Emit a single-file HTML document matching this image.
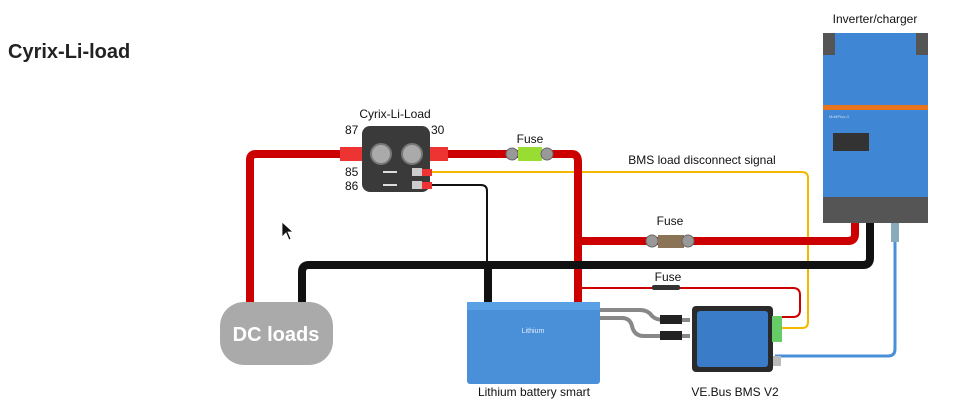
<!DOCTYPE html>
<html><head><meta charset="utf-8"><style>
html,body{margin:0;padding:0;background:#fff;}
svg{display:block;font-family:"Liberation Sans",sans-serif;}
</style></head><body>
<svg width="960" height="414" viewBox="0 0 960 414" xmlns="http://www.w3.org/2000/svg">
<text x="8" y="58" font-size="20" font-weight="bold" fill="#222">Cyrix-Li-load</text>

<!-- thin red from battery to BMS -->
<path d="M578 288 H793 Q800 288 800 295 V310 Q800 317 793 317 H778" fill="none" stroke="#c00" stroke-width="2"/>
<rect x="652" y="285" width="28" height="5" rx="2" fill="#333"/>
<!-- orange signal -->
<path d="M430 172 H802 Q808 172 808 178 V322 Q808 328 802 328 H778" fill="none" stroke="#f5b800" stroke-width="2"/>
<!-- thin black 86 -->
<path d="M430 185 H481 Q487 185 487 191 V265" fill="none" stroke="#111" stroke-width="2"/>

<!-- red main -->
<path d="M250 302 V160 Q250 154 256 154 H345" fill="none" stroke="#c00" stroke-width="8"/>
<path d="M445 154 H572 Q578 154 578 162 V303" fill="none" stroke="#c00" stroke-width="8"/>
<path d="M578 241 H848 Q855 241 855 234 V220" fill="none" stroke="#c00" stroke-width="8"/>
<!-- black main -->
<path d="M302 302 V272 Q302 265 309 265 H863 Q870 265 870 258 V220" fill="none" stroke="#111" stroke-width="8"/>
<path d="M488 265 V303" fill="none" stroke="#111" stroke-width="8"/>
<!-- blue -->
<path d="M895 225 V349 Q895 356 888 356 H775" fill="none" stroke="#4a90d9" stroke-width="3"/>
<rect x="891" y="220" width="8" height="22" fill="#8ab" />
<!-- gray cables -->
<path d="M598 310 H640 Q648 310 652 316 Q656 320 664 320 H690" fill="none" stroke="#888" stroke-width="4"/>
<path d="M598 318 H622 Q630 318 632 326 Q634 336 644 336 H690" fill="none" stroke="#888" stroke-width="4"/>
<rect x="660" y="315" width="22" height="9" fill="#222"/>
<rect x="660" y="331" width="22" height="9" fill="#222"/>

<!-- fuses -->
<circle cx="512" cy="154" r="6" fill="#999" stroke="#666"/>
<rect x="518" y="147" width="24" height="14" fill="#9d3"/>
<circle cx="547" cy="154" r="6" fill="#999" stroke="#666"/>
<circle cx="652" cy="241" r="6" fill="#999" stroke="#666"/>
<rect x="658" y="235" width="26" height="13" fill="#8b7355"/>
<circle cx="688" cy="241" r="6" fill="#999" stroke="#666"/>

<!-- relay -->
<rect x="340" y="147" width="24" height="14" fill="#e33"/>
<rect x="424" y="147" width="24" height="14" fill="#e33"/>
<rect x="362" y="126" width="68" height="66" rx="8" fill="#3a3a3a"/>
<circle cx="381" cy="154" r="10" fill="#aaa" stroke="#777" stroke-width="2"/>
<circle cx="412" cy="154" r="10" fill="#aaa" stroke="#777" stroke-width="2"/>
<rect x="412" y="168" width="10" height="8" fill="#ccc"/>
<rect x="412" y="181" width="10" height="8" fill="#ccc"/>
<rect x="422" y="169" width="10" height="7" fill="#e33"/>
<rect x="422" y="182" width="10" height="7" fill="#e33"/>
<rect x="383" y="171" width="14" height="2" fill="#ddd"/>
<rect x="383" y="184" width="14" height="2" fill="#ddd"/>

<!-- inverter -->
<rect x="823" y="33" width="105" height="190" rx="3" fill="#3f86d4"/>
<rect x="823" y="33" width="12" height="22" fill="#555"/>
<rect x="916" y="33" width="12" height="22" fill="#555"/>
<rect x="823" y="197" width="105" height="26" fill="#555"/>
<rect x="823" y="105" width="105" height="5" fill="#e8741e"/>
<rect x="833" y="133" width="36" height="18" fill="#333"/>
<text x="829" y="118" font-size="4" fill="#cde">MultiPlus-II</text>

<!-- battery -->
<rect x="467" y="302" width="133" height="82" rx="3" fill="#4a90d9"/>
<rect x="467" y="302" width="133" height="8" fill="#5aa0e5"/>
<text x="533" y="333" font-size="7" fill="#e0ecff" text-anchor="middle">Lithium</text>

<!-- BMS -->
<rect x="692" y="306" width="81" height="66" rx="4" fill="#2a2a2a"/>
<rect x="697" y="311" width="71" height="56" rx="3" fill="#3a7cc8"/>
<rect x="772" y="316" width="10" height="26" fill="#6c6"/>
<rect x="773" y="356" width="8" height="10" fill="#bbb"/>

<!-- DC loads -->
<rect x="220" y="302" width="113" height="63" rx="24" fill="#aaa"/>
<text x="276" y="341" font-size="20" font-weight="bold" fill="#fff" text-anchor="middle">DC loads</text>

<!-- labels -->
<g font-size="12" fill="#111">
<text x="395" y="118" text-anchor="middle">Cyrix-Li-Load</text>
<text x="345" y="134">87</text>
<text x="431" y="134">30</text>
<text x="345" y="176">85</text>
<text x="345" y="190">86</text>
<text x="530" y="143" text-anchor="middle">Fuse</text>
<text x="702" y="164" text-anchor="middle">BMS load disconnect signal</text>
<text x="670" y="225" text-anchor="middle">Fuse</text>
<text x="668" y="281" text-anchor="middle">Fuse</text>
<text x="875" y="23" text-anchor="middle">Inverter/charger</text>
<text x="534" y="396" text-anchor="middle">Lithium battery smart</text>
<text x="735" y="396" text-anchor="middle">VE.Bus BMS V2</text>
</g>
<!-- cursor -->
<path d="M282 222 L282 237 L286 233 L289 240 L291 239 L288 232 L293 232 Z" fill="#111" stroke="#fff" stroke-width="0.8"/>
</svg>
</body></html>
